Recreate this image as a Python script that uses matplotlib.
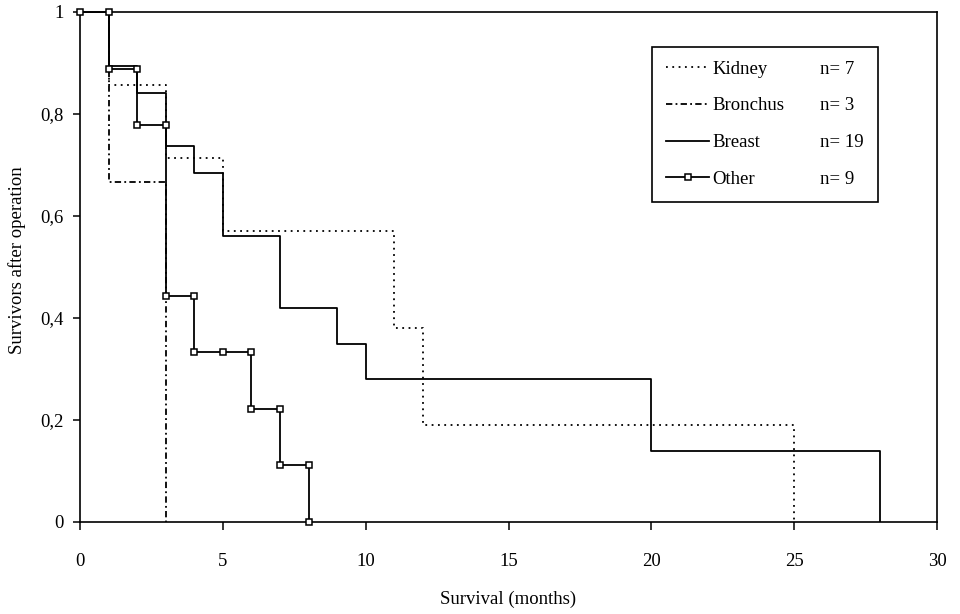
import matplotlib
matplotlib.use('Agg')
import matplotlib.pyplot as plt
from matplotlib.lines import Line2D

# ---- data ----
kidney_t = [0, 1, 3, 5, 11, 12, 25]
kidney_s = [1, 0.857, 0.714, 0.571, 0.381, 0.190, 0]
bronchus_t = [0, 1, 3]
bronchus_s = [1, 0.667, 0]
breast_t = [0, 1, 2, 3, 4, 5, 7, 9, 10, 20, 28]
breast_s = [1, 0.895, 0.842, 0.737, 0.684, 0.56, 0.42, 0.35, 0.28, 0.14, 0]
other_t = [0, 1, 2, 3, 4, 5, 6, 7, 8]
other_s = [1, 0.889, 0.778, 0.444, 0.333, 0.333, 0.222, 0.111, 0]

group_names = ['Kidney', 'Bronchus', 'Breast', 'Other']
group_n = [7, 3, 19, 9]

x_ticks = [0, 5, 10, 15, 20, 25, 30]
y_ticks = [0, 0.2, 0.4, 0.6, 0.8, 1]
y_tick_labels = ['0', '0,2', '0,4', '0,6', '0,8', '1']
x_label = 'Survival (months)'
y_label = 'Survivors after operation'


def step_vertices(t, s):
    xs, ys = [t[0]], [s[0]]
    for i in range(1, len(t)):
        xs.append(t[i]); ys.append(s[i - 1])
        if s[i] != s[i - 1]:
            xs.append(t[i]); ys.append(s[i])
    return xs, ys


plt.rcParams['font.family'] = ['Liberation Serif', 'DejaVu Serif']
FS = 13.5

fig = plt.figure(figsize=(9.6, 6.14), dpi=100)
ax = fig.add_axes([80 / 960, 1 - 522 / 614, 857 / 960, 510 / 614])

lw = 1.3
kx, ky = step_vertices(kidney_t, kidney_s)
l1, = ax.plot(kx, ky, color='black', lw=lw, linestyle=(0, (1, 2.5)), label=group_names[0])
bx, by = step_vertices(bronchus_t, bronchus_s)
l2, = ax.plot(bx, by, color='black', lw=lw, linestyle=(0, (3.5, 1.8, 1, 1.8)), label=group_names[1])
brx, bry = step_vertices(breast_t, breast_s)
l3, = ax.plot(brx, bry, color='black', lw=lw, linestyle='-', label=group_names[2])
ox, oy = step_vertices(other_t, other_s)
l4, = ax.plot(ox, oy, color='black', lw=lw, linestyle='-', marker='s', markersize=5,
              markerfacecolor='white', markeredgecolor='black', markeredgewidth=1.1,
              clip_on=False, zorder=5, label=group_names[3])

ax.set_xlim(0, 30)
ax.set_ylim(0, 1)
ax.set_xticks(x_ticks)
ax.set_xticklabels([str(v) for v in x_ticks])
ax.set_yticks(y_ticks)
ax.set_yticklabels(y_tick_labels)
ax.tick_params(axis='x', direction='out', length=6, width=1.1, pad=16, labelsize=FS)
ax.tick_params(axis='y', direction='out', length=5, width=1.1, pad=7, labelsize=FS)
for sp in ax.spines.values():
    sp.set_color('black')
    sp.set_linewidth(1.2)

ax.set_xlabel(x_label, fontsize=FS, labelpad=15)
ax.set_ylabel(y_label, fontsize=FS, labelpad=10)
ax.yaxis.label.set_y(0.514)

n_handles = [Line2D([], [], linestyle='none') for _ in group_n]
handles = [l1, l2, l3, l4] + n_handles
labels = group_names + ['n= %d' % n for n in group_n]
leg = ax.legend(handles, labels, ncol=2, loc='upper left',
                bbox_to_anchor=(0.6674, 0.631, 0.931 - 0.6674, 0.932 - 0.631),
                mode='expand', borderaxespad=0, borderpad=0.75, fontsize=FS,
                handlelength=2.3, handletextpad=0.15, labelspacing=1.04,
                columnspacing=0.5, frameon=True, fancybox=False, framealpha=1,
                edgecolor='black')
leg.get_frame().set_linewidth(1.2)

fig.savefig('out.png', dpi=100)
